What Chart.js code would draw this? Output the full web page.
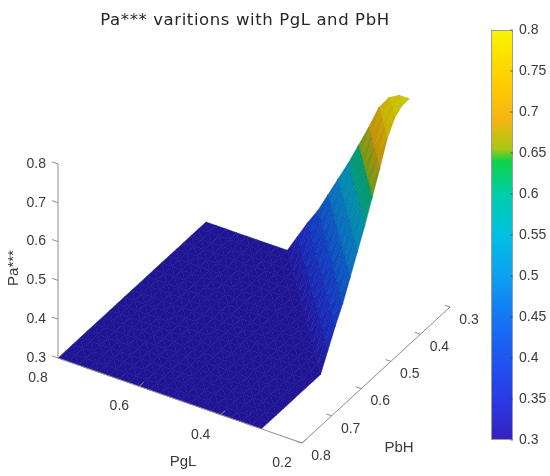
<!DOCTYPE html>
<html>
<head>
<meta charset="utf-8">
<script src="https://cdn.jsdelivr.net/npm/chart.js@4.4.1/dist/chart.umd.min.js"></script>
<style>
  html, body { margin: 0; padding: 0; background: #fff; }
  #wrap { width: 550px; height: 476px; position: relative; }
</style>
</head>
<body>
<div id="wrap"><canvas id="surf"></canvas></div>
<script>
// grid of the surface (PgL along columns, PbH along rows)
var pglVals = [0.3, 0.325, 0.35, 0.375, 0.4, 0.425, 0.45, 0.475, 0.5, 0.525, 0.55, 0.575, 0.6, 0.625, 0.65, 0.675, 0.7, 0.725, 0.75, 0.775, 0.8];
var pbhVals = [0.3, 0.325, 0.35, 0.375, 0.4, 0.425, 0.45, 0.475, 0.5, 0.525, 0.55, 0.575, 0.6, 0.625, 0.65, 0.675, 0.7, 0.725, 0.75, 0.775, 0.8];

// Pa***, one row per PbH value
var paVals = [
  [0.80, 0.80, 0.785, 0.75, 0.69, 0.635, 0.58, 0.53, 0.48, 0.43, 0.39, 0.345, 0.30, 0.30, 0.30, 0.30, 0.30, 0.30, 0.30, 0.30, 0.30],
  [0.80, 0.785, 0.75, 0.69, 0.635, 0.58, 0.53, 0.48, 0.43, 0.39, 0.345, 0.30, 0.30, 0.30, 0.30, 0.30, 0.30, 0.30, 0.30, 0.30, 0.30],
  [0.785, 0.75, 0.69, 0.635, 0.58, 0.53, 0.48, 0.43, 0.39, 0.345, 0.30, 0.30, 0.30, 0.30, 0.30, 0.30, 0.30, 0.30, 0.30, 0.30, 0.30],
  [0.75, 0.69, 0.635, 0.58, 0.53, 0.48, 0.43, 0.39, 0.345, 0.30, 0.30, 0.30, 0.30, 0.30, 0.30, 0.30, 0.30, 0.30, 0.30, 0.30, 0.30],
  [0.69, 0.635, 0.58, 0.53, 0.48, 0.43, 0.39, 0.345, 0.30, 0.30, 0.30, 0.30, 0.30, 0.30, 0.30, 0.30, 0.30, 0.30, 0.30, 0.30, 0.30],
  [0.635, 0.58, 0.53, 0.48, 0.43, 0.39, 0.345, 0.30, 0.30, 0.30, 0.30, 0.30, 0.30, 0.30, 0.30, 0.30, 0.30, 0.30, 0.30, 0.30, 0.30],
  [0.58, 0.53, 0.48, 0.43, 0.39, 0.345, 0.30, 0.30, 0.30, 0.30, 0.30, 0.30, 0.30, 0.30, 0.30, 0.30, 0.30, 0.30, 0.30, 0.30, 0.30],
  [0.53, 0.48, 0.43, 0.39, 0.345, 0.30, 0.30, 0.30, 0.30, 0.30, 0.30, 0.30, 0.30, 0.30, 0.30, 0.30, 0.30, 0.30, 0.30, 0.30, 0.30],
  [0.48, 0.43, 0.39, 0.345, 0.30, 0.30, 0.30, 0.30, 0.30, 0.30, 0.30, 0.30, 0.30, 0.30, 0.30, 0.30, 0.30, 0.30, 0.30, 0.30, 0.30],
  [0.43, 0.39, 0.345, 0.30, 0.30, 0.30, 0.30, 0.30, 0.30, 0.30, 0.30, 0.30, 0.30, 0.30, 0.30, 0.30, 0.30, 0.30, 0.30, 0.30, 0.30],
  [0.39, 0.345, 0.30, 0.30, 0.30, 0.30, 0.30, 0.30, 0.30, 0.30, 0.30, 0.30, 0.30, 0.30, 0.30, 0.30, 0.30, 0.30, 0.30, 0.30, 0.30],
  [0.345, 0.30, 0.30, 0.30, 0.30, 0.30, 0.30, 0.30, 0.30, 0.30, 0.30, 0.30, 0.30, 0.30, 0.30, 0.30, 0.30, 0.30, 0.30, 0.30, 0.30],
  [0.30, 0.30, 0.30, 0.30, 0.30, 0.30, 0.30, 0.30, 0.30, 0.30, 0.30, 0.30, 0.30, 0.30, 0.30, 0.30, 0.30, 0.30, 0.30, 0.30, 0.30],
  [0.30, 0.30, 0.30, 0.30, 0.30, 0.30, 0.30, 0.30, 0.30, 0.30, 0.30, 0.30, 0.30, 0.30, 0.30, 0.30, 0.30, 0.30, 0.30, 0.30, 0.30],
  [0.30, 0.30, 0.30, 0.30, 0.30, 0.30, 0.30, 0.30, 0.30, 0.30, 0.30, 0.30, 0.30, 0.30, 0.30, 0.30, 0.30, 0.30, 0.30, 0.30, 0.30],
  [0.30, 0.30, 0.30, 0.30, 0.30, 0.30, 0.30, 0.30, 0.30, 0.30, 0.30, 0.30, 0.30, 0.30, 0.30, 0.30, 0.30, 0.30, 0.30, 0.30, 0.30],
  [0.30, 0.30, 0.30, 0.30, 0.30, 0.30, 0.30, 0.30, 0.30, 0.30, 0.30, 0.30, 0.30, 0.30, 0.30, 0.30, 0.30, 0.30, 0.30, 0.30, 0.30],
  [0.30, 0.30, 0.30, 0.30, 0.30, 0.30, 0.30, 0.30, 0.30, 0.30, 0.30, 0.30, 0.30, 0.30, 0.30, 0.30, 0.30, 0.30, 0.30, 0.30, 0.30],
  [0.30, 0.30, 0.30, 0.30, 0.30, 0.30, 0.30, 0.30, 0.30, 0.30, 0.30, 0.30, 0.30, 0.30, 0.30, 0.30, 0.30, 0.30, 0.30, 0.30, 0.30],
  [0.30, 0.30, 0.30, 0.30, 0.30, 0.30, 0.30, 0.30, 0.30, 0.30, 0.30, 0.30, 0.30, 0.30, 0.30, 0.30, 0.30, 0.30, 0.30, 0.30, 0.30],
  [0.30, 0.30, 0.30, 0.30, 0.30, 0.30, 0.30, 0.30, 0.30, 0.30, 0.30, 0.30, 0.30, 0.30, 0.30, 0.30, 0.30, 0.30, 0.30, 0.30, 0.30]
];

// tick labels
var zTicks = [0.3, 0.4, 0.5, 0.6, 0.7, 0.8];
var pglTicks = [0.8, 0.6, 0.4, 0.2];
var pbhTicks = [0.8, 0.7, 0.6, 0.5, 0.4, 0.3];
var cbTicks = [0.3, 0.35, 0.4, 0.45, 0.5, 0.55, 0.6, 0.65, 0.7, 0.75, 0.8];

// axis limits
var pglLim = [0.2, 0.8], pbhLim = [0.3, 0.8], zLim = [0.3, 0.8];

// colormap (parula-like, as it looks in the picture)
var cmapPos = [0, 0.1, 0.2, 0.3, 0.4, 0.5, 0.6, 0.68, 0.71, 0.78, 0.87, 1];
var cmapCol = ['#3422bc', '#2a3ae4', '#1e56f0', '#1476f2', '#0ca0f0', '#02c0e4',
               '#00cfa8', '#10d048', '#a8c814', '#f6b414', '#ffcc00', '#f8f400'];

// view: screen position of the corner (PgL 0.8, PbH 0.8, Pa 0.3) and per-unit steps
var view = { ox: 58, oy: 358, gx: 406.7, gy: 141.7, hx: 296, hy: -272, zy: 388 };

function proj(g, h, z) {
  return {
    x: view.ox + (0.8 - g) * view.gx + (0.8 - h) * view.hx,
    y: view.oy + (0.8 - g) * view.gy + (0.8 - h) * view.hy - (z - 0.3) * view.zy
  };
}

function hexRgb(c) {
  return [parseInt(c.substr(1, 2), 16), parseInt(c.substr(3, 2), 16), parseInt(c.substr(5, 2), 16)];
}

function cmapT(v) {
  var t = (v - zLim[0]) / (zLim[1] - zLim[0]);
  return Math.max(0, Math.min(1, t));
}

function cmap(v) {
  var t = cmapT(v);
  for (var k = 0; k < cmapPos.length - 1; k++) {
    if (t <= cmapPos[k + 1]) {
      var f = (t - cmapPos[k]) / (cmapPos[k + 1] - cmapPos[k]);
      var a = hexRgb(cmapCol[k]), b = hexRgb(cmapCol[k + 1]);
      return [a[0] + (b[0] - a[0]) * f, a[1] + (b[1] - a[1]) * f, a[2] + (b[2] - a[2]) * f];
    }
  }
  return hexRgb(cmapCol[cmapCol.length - 1]);
}

function rgb(c, kr, kb) {
  return 'rgb(' + Math.round(c[0] * kr) + ',' + Math.round(c[1] * kr) + ',' + Math.round(c[2] * kb) + ')';
}

// each grid cell is split in two triangles along its (i+1,j)-(i,j+1) diagonal
var faces = [];
function addFace(corners) {
  var pts = corners.map(function (q) { return proj(pglVals[q[0]], pbhVals[q[1]], paVals[q[1]][q[0]]); });
  var zm = 0, gm = 0, hm = 0;
  corners.forEach(function (q) { zm += paVals[q[1]][q[0]]; gm += pglVals[q[0]]; hm += pbhVals[q[1]]; });
  zm /= corners.length; gm /= corners.length; hm /= corners.length;
  pts.push(pts[0]);
  var col = cmap(zm), k = 0.62 + 0.2 * cmapT(zm);
  faces.push({ pts: pts, depth: proj(gm, hm, 0.3).y, fill: rgb(col, k, 0.8), edge: rgb(col, k * 0.9, 0.72) });
}
for (var j = 0; j < pbhVals.length - 1; j++) {
  for (var i = 0; i < pglVals.length - 1; i++) {
    addFace([[i, j], [i + 1, j], [i, j + 1]]);
    addFace([[i + 1, j], [i + 1, j + 1], [i, j + 1]]);
  }
}
// front faces first: chart.js paints the first dataset last
faces.sort(function (a, b) { return b.depth - a.depth; });

var axisColor = '#8c8c8c';
var datasets = [];

function seg(a, b) {
  datasets.push({ data: [a, b], showLine: true, borderColor: axisColor, borderWidth: 1, pointRadius: 0, fill: false });
}

// axis lines
seg(proj(0.8, 0.8, zLim[0]), proj(0.8, 0.8, zLim[1]));
seg(proj(pglLim[1], 0.8, 0.3), proj(pglLim[0], 0.8, 0.3));
seg(proj(pglLim[0], pbhLim[1], 0.3), proj(pglLim[0], pbhLim[0], 0.3));
// tick marks
zTicks.forEach(function (v) { seg(proj(0.8, 0.8, v), proj(0.815, 0.8, v)); });
pglTicks.forEach(function (v) { seg(proj(v, 0.8, 0.3), proj(v, 0.785, 0.3)); });
pbhTicks.forEach(function (v) { seg(proj(0.2, v, 0.3), proj(0.213, v, 0.3)); });

faces.forEach(function (f) {
  datasets.push({
    data: f.pts, showLine: true, fill: 'shape', backgroundColor: f.fill,
    borderColor: f.edge, borderWidth: 0.5, pointRadius: 0, tension: 0
  });
});

function fmt(v) { return String(Math.round(v * 100) / 100); }

// titles, tick labels and colorbar
var decorations = {
  id: 'decorations',
  afterDraw: function (chart) {
    var ctx = chart.ctx, sx = chart.scales.x, sy = chart.scales.y;
    function px(p) { return sx.getPixelForValue(p.x); }
    function py(p) { return sy.getPixelForValue(p.y); }
    ctx.save();
    ctx.fillStyle = '#262626';
    ctx.textBaseline = 'middle';

    ctx.font = '16.5px "DejaVu Sans"';
    ctx.letterSpacing = '0.6px';
    ctx.textAlign = 'center';
    ctx.fillText('Pa*** varitions with PgL and PbH', sx.getPixelForValue(245), sy.getPixelForValue(21));
    ctx.letterSpacing = '0px';

    ctx.font = '14px "Liberation Sans"';
    ctx.fillStyle = '#3a3a3a';
    ctx.textAlign = 'right';
    zTicks.forEach(function (v) {
      var p = proj(0.8, 0.8, v);
      ctx.fillText(fmt(v), px(p) - 12, py(p));
    });
    ctx.textAlign = 'center';
    pglTicks.forEach(function (v) {
      var p = proj(v, 0.8, 0.3);
      ctx.fillText(fmt(v), px(p) - 20, py(p) + 20);
    });
    pbhTicks.forEach(function (v) {
      var p = proj(0.2, v, 0.3);
      ctx.fillText(fmt(v), px(p) + 19, py(p) + 13);
    });

    ctx.font = '15px "Liberation Sans"';
    var lg = proj(0.5, 0.8, 0.3);
    ctx.fillText('PgL', px(lg) + 3, py(lg) + 61);
    var lh = proj(0.2, 0.55, 0.3);
    ctx.fillText('PbH', px(lh) + 23, py(lh) + 73);
    ctx.save();
    ctx.translate(sx.getPixelForValue(14), sy.getPixelForValue(268));
    ctx.rotate(-Math.PI / 2);
    ctx.fillText('Pa***', 0, 0);
    ctx.restore();

    // colorbar
    var cb = { x0: 491, x1: 513, top: 30, bottom: 440 };
    var X0 = sx.getPixelForValue(cb.x0), X1 = sx.getPixelForValue(cb.x1);
    var T = sy.getPixelForValue(cb.top), B = sy.getPixelForValue(cb.bottom);
    var grad = ctx.createLinearGradient(0, B, 0, T);
    cmapPos.forEach(function (p, k) { grad.addColorStop(p, cmapCol[k]); });
    ctx.fillStyle = grad;
    ctx.fillRect(X0, T, X1 - X0, B - T);
    ctx.strokeStyle = '#9a9a9a';
    ctx.lineWidth = 1;
    ctx.strokeRect(X0 + 0.5, T + 0.5, X1 - X0 - 1, B - T - 1);
    ctx.fillStyle = '#3a3a3a';
    ctx.font = '14px "Liberation Sans"';
    ctx.textAlign = 'left';
    cbTicks.forEach(function (v) {
      var y = B + (T - B) * (v - zLim[0]) / (zLim[1] - zLim[0]);
      ctx.strokeStyle = 'rgba(60,60,60,0.6)';
      ctx.beginPath();
      ctx.moveTo(X1 - 3, y);
      ctx.lineTo(X1, y);
      ctx.stroke();
      ctx.fillText(fmt(v), X1 + 6, y);
    });
    ctx.restore();
  }
};

new Chart(document.getElementById('surf'), {
  type: 'scatter',
  data: { datasets: datasets },
  options: {
    responsive: true,
    maintainAspectRatio: false,
    animation: false,
    layout: { padding: 0 },
    plugins: { legend: { display: false }, tooltip: { enabled: false } },
    elements: { line: { tension: 0 } },
    scales: {
      x: { type: 'linear', min: 0, max: 550, display: false },
      y: { type: 'linear', min: 0, max: 476, reverse: true, display: false }
    }
  },
  plugins: [decorations]
});
</script>
</body>
</html>
